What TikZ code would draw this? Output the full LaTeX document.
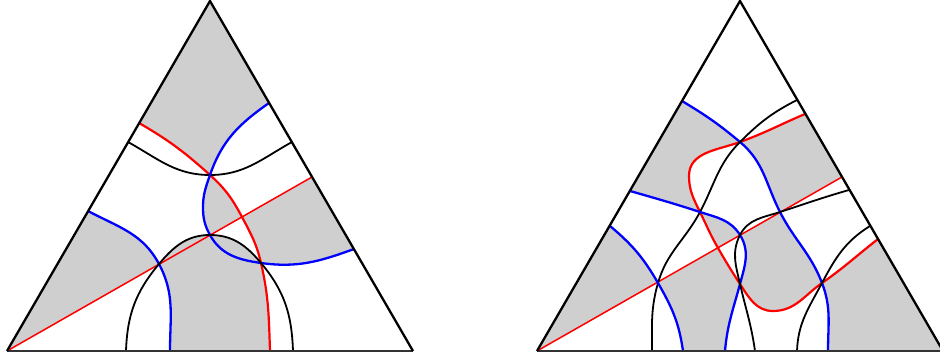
\documentclass[tikz,border=0pt]{standalone}
\usepackage{xcolor}
\usepackage{tikz}
\usetikzlibrary{calc}
\tikzset{
  side/.style={draw=black, line width=2.3pt, line join=miter},
  baseedge/.style={draw=black!80, line width=1.3pt},
  shade/.style={fill=black!19},
  bluecurve/.style={draw=blue, line width=2.3pt},
  redcurve/.style={draw=red, line width=2.2pt},
  blackcurve/.style={draw=black, line width=1.8pt},
  redline/.style={draw=red, line width=1.5pt}
}

\begin{document}
\begin{tikzpicture}[x=1pt, y=-1pt]
    \useasboundingbox (0,0) rectangle (940,358);

    % left triangle
    \begin{scope}
    \coordinate (L1) at (7,351);
    \coordinate (R1) at (413,351);
    \coordinate (T1) at (210,1);
    \coordinate (P1) at (210,175);
    \coordinate (P2) at (210,235);
    \coordinate (P3) at (159,264);
    \coordinate (P4) at (261,263);
    \coordinate (P5) at (242,217);

    \fill[shade] (T1) -- (139,123) to[out=330,in=138] (P1) to[out=71,in=215] (269,103) -- cycle;
    \fill[shade] (P1) to[out=318,in=118] (P5) -- (P2) to[out=119,in=270] (203,207) to[out=90,in=251] (P1) -- cycle;
    \fill[shade] (P5) -- (312,177) -- (354,249) to[out=200,in=352] (P4) to[out=103,in=298] (P5) -- cycle;
    \fill[shade] (L1) -- (88,211) to[out=332,in=118] (P3) -- cycle;
    \fill[shade] (170,351) to[out=90,in=298] (P3) to[out=50,in=180] (P2) to[out=0,in=130] (P4)
        to[out=283,in=92] (270,351) -- cycle;

    \draw[redline] (L1) -- (312,177);
    \draw[redcurve] (139,123) to[out=330,in=138] (P1) to[out=318,in=118] (P5) to[out=298,in=103] (P4)
        to[out=283,in=92] (270,351);
    \draw[blackcurve] (128,142) to[out=331,in=180] (P1) to[out=0,in=209] (292,142);
    \draw[bluecurve] (269,103) to[out=215,in=71] (P1) to[out=251,in=90] (203,207) to[out=270,in=119] (P2)
        to[out=299,in=172] (P4) to[out=352,in=200] (354,249);
    \draw[bluecurve] (88,211) to[out=332,in=118] (P3) to[out=298,in=90] (170,351);
    \draw[blackcurve] (126,351) to[out=88,in=230] (P3) to[out=50,in=180] (P2) to[out=0,in=130] (P4)
        to[out=310,in=92] (293,351);

    \draw[baseedge] (L1) -- (R1);
    \draw[side] (L1) -- (T1) -- (R1);
    \end{scope}

    % right triangle
    \begin{scope}[shift={(530,0)}]
    \coordinate (L2) at (7,351);
    \coordinate (R2) at (413,351);
    \coordinate (T2) at (210,1);
    \coordinate (Q1) at (210,142);
    \coordinate (Q2) at (170,212);
    \coordinate (Q3) at (250,212);
    \coordinate (Q4) at (210,235);
    \coordinate (Q5) at (128,283);
    \coordinate (Q6) at (210,284);
    \coordinate (Q7) at (292,283);
    \coordinate (Q8) at (188,248);

    \fill[shade] (152,101) -- (100,191) to[out=344,in=162] (Q2) to[out=116,in=270] (159,176)
        to[out=90,in=200] (Q1) to[out=140,in=329] (152,101) -- cycle;
    \fill[shade] (Q1) to[out=20,in=203] (275,114) -- (312,177) -- (Q3) to[out=117,in=320] (Q1) -- cycle;
    \fill[shade] (Q2) to[out=342,in=122] (Q4) -- (Q8) to[out=120,in=296] (Q2) -- cycle;
    \fill[shade] (L2) -- (80,226) to[out=320,in=120] (Q5) -- cycle;
    \fill[shade] (Q5) to[out=300,in=98] (153,351) -- (195,351) to[out=85,in=255] (Q6)
        to[out=123,in=300] (Q8) -- cycle;
    \fill[shade] (Q4) -- (Q3) to[out=297,in=111] (Q7) to[out=215,in=0] (243,311)
        to[out=180,in=303] (Q6) to[out=75,in=302] (Q4) -- cycle;
    \fill[shade] (R2) -- (348,239) to[out=218,in=35] (Q7) to[out=291,in=90] (298,351) -- cycle;

    \draw[redline] (L2) -- (312,177);
    \draw[redcurve] (275,114) to[out=203,in=20] (Q1) to[out=200,in=90] (159,176) to[out=270,in=116] (Q2)
        to[out=296,in=120] (Q8) to[out=300,in=123] (Q6) to[out=303,in=180] (243,311)
        to[out=0,in=215] (Q7) to[out=35,in=218] (348,239);
    \draw[bluecurve] (152,101) to[out=329,in=140] (Q1) to[out=320,in=117] (Q3) to[out=297,in=111] (Q7)
        to[out=291,in=90] (298,351);
    \draw[blackcurve] (267,100) to[out=207,in=45] (Q1) to[out=225,in=62] (Q2) to[out=242,in=74] (Q5)
        to[out=254,in=90] (122,351);
    \draw[bluecurve] (100,191) to[out=344,in=162] (Q2) to[out=342,in=122] (Q4) to[out=302,in=75] (Q6)
        to[out=255,in=85] (195,351);
    \draw[blackcurve] (319,190) to[out=196,in=18] (Q3) to[out=198,in=63] (Q4) to[out=243,in=103] (Q6)
        to[out=283,in=98] (225,351);
    \draw[bluecurve] (80,226) to[out=320,in=120] (Q5) to[out=300,in=98] (153,351);
    \draw[blackcurve] (340,226) to[out=212,in=62] (Q7) to[out=242,in=88] (267,351);

    \draw[baseedge] (L2) -- (R2);
    \draw[side] (L2) -- (T2) -- (R2);
    \end{scope}
\end{tikzpicture}
\end{document}
